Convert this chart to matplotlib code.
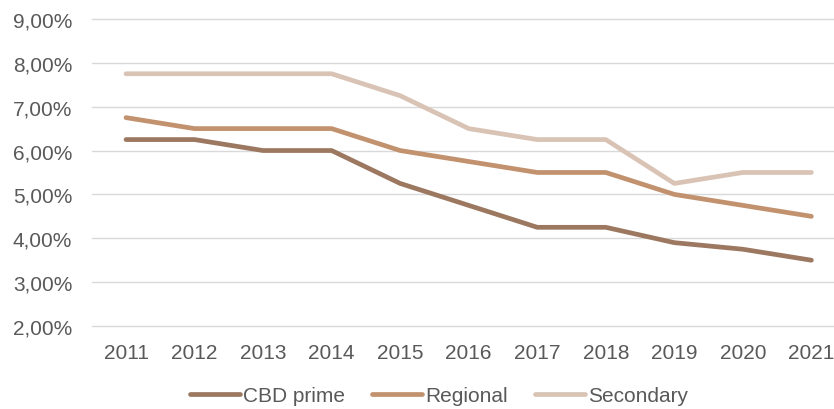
import numpy as np
import matplotlib.pyplot as plt
from matplotlib.ticker import FuncFormatter

years = ["2011", "2012", "2013", "2014", "2015", "2016", "2017", "2018", "2019", "2020", "2021"]
cbd_prime = [6.25, 6.25, 6.0, 6.0, 5.25, 4.75, 4.25, 4.25, 3.9, 3.75, 3.5]
regional = [6.75, 6.5, 6.5, 6.5, 6.0, 5.75, 5.5, 5.5, 5.0, 4.75, 4.5]
secondary = [7.75, 7.75, 7.75, 7.75, 7.25, 6.5, 6.25, 6.25, 5.25, 5.5, 5.5]

plt.rcParams['font.family'] = ['Liberation Sans', 'DejaVu Sans']
text_col = "#595959"
fs = 15

fig = plt.figure(figsize=(8.34, 4.10), dpi=100)
ax = fig.add_axes([0.110, 0.2024, 0.890, 0.749])

x = np.arange(len(years))
ax.plot(x, cbd_prime, color="#9C7860", lw=3.4, solid_capstyle="round", solid_joinstyle="round", label="CBD prime")
ax.plot(x, regional, color="#C2926F", lw=3.4, solid_capstyle="round", solid_joinstyle="round", label="Regional")
ax.plot(x, secondary, color="#D9C3B5", lw=3.4, solid_capstyle="round", solid_joinstyle="round", label="Secondary")

ax.set_ylim(2, 9)
ax.set_yticks(np.arange(2, 10, 1))
ax.yaxis.set_major_formatter(FuncFormatter(lambda v, p: f"{v:.2f}%".replace(".", ",")))
ax.set_xlim(-0.5, 10.33)
ax.set_xticks(x)
ax.set_xticklabels(years)

ax.grid(axis="y", color="#D9D9D9", lw=1)
for gl in ax.get_ygridlines():
    gl.set_clip_on(False)
ax.set_axisbelow(True)
for s in ax.spines.values():
    s.set_visible(False)
ax.tick_params(length=0, labelsize=fs, labelcolor=text_col)
ax.tick_params(axis="y", pad=14)
ax.tick_params(axis="x", pad=12)

fig.legend(loc="center", bbox_to_anchor=(0.526, 0.032), ncol=3, frameon=False,
           fontsize=fs, labelcolor=text_col, handlelength=2.4, handletextpad=0.15,
           columnspacing=1.3)

fig.savefig("out.png", dpi=100)
